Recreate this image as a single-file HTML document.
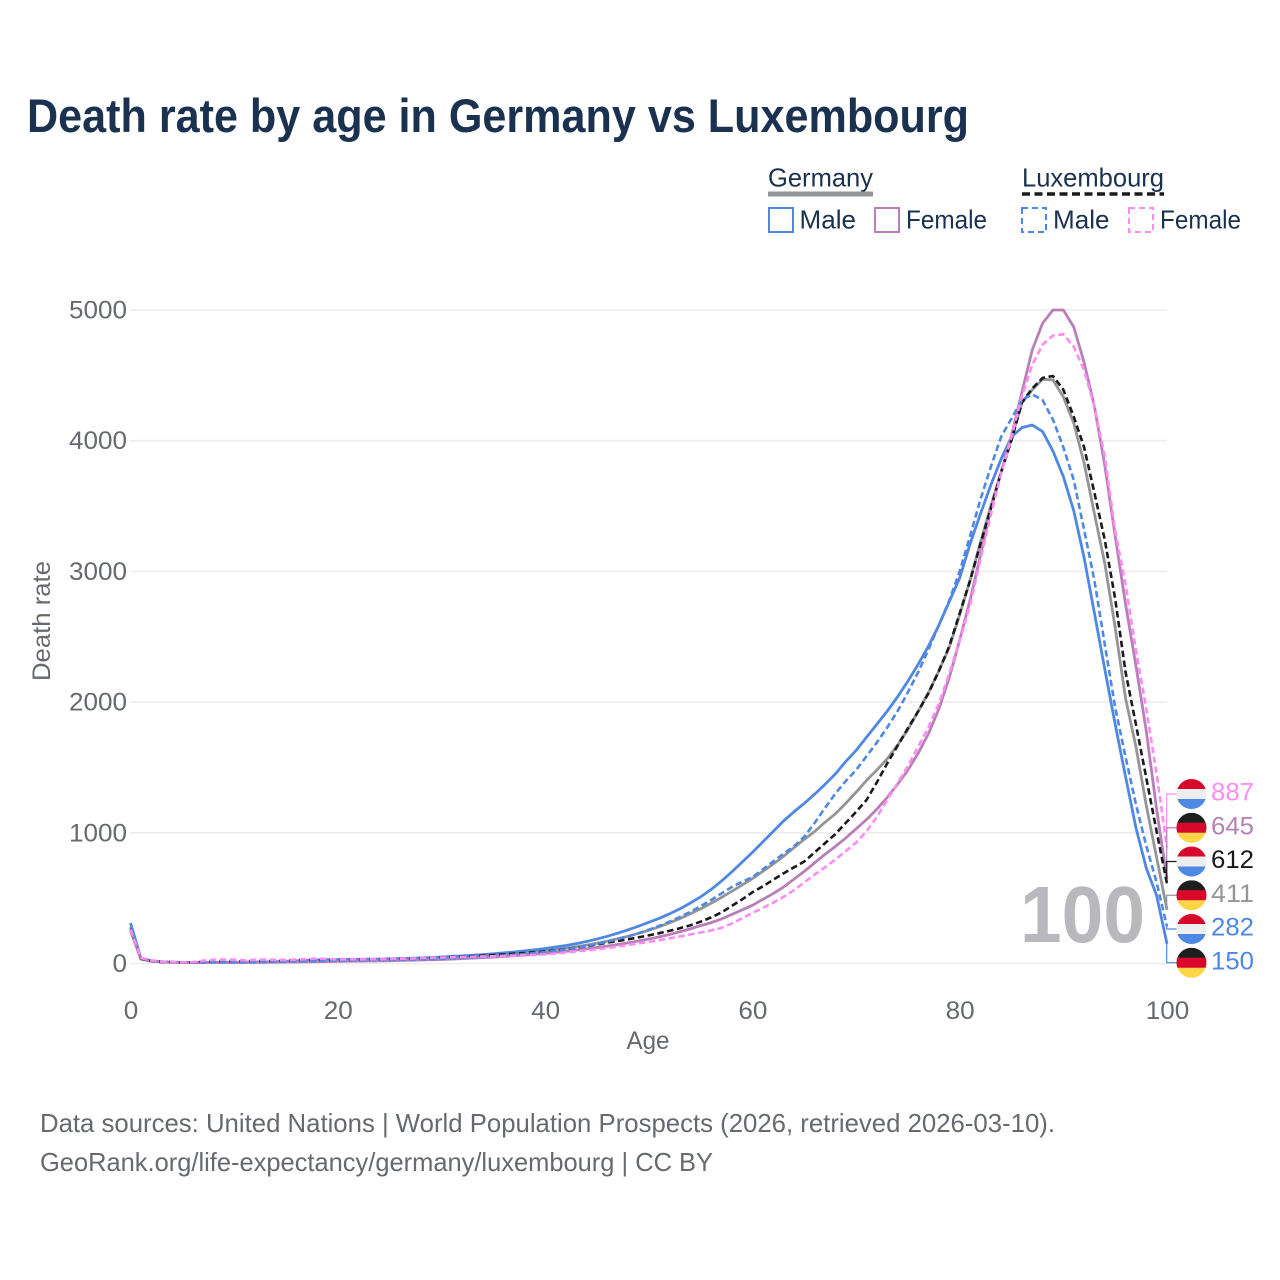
<!DOCTYPE html>
<html lang="en">
<head>
<meta charset="utf-8">
<title>Death rate by age in Germany vs Luxembourg</title>
<style>
html,body{margin:0;padding:0;background:#fff;width:1280px;height:1280px;overflow:hidden}
svg{display:block}
text{font-family:"Liberation Sans",sans-serif}
</style>
</head>
<body>
<svg id="chart" xmlns="http://www.w3.org/2000/svg" width="1280" height="1280" viewBox="0 0 1280 1280">
  <defs>
    <clipPath id="flag-clip"><circle cx="0" cy="0" r="15"/></clipPath>
  </defs>
  <rect width="1280" height="1280" fill="#fff"/>
  <text x="27" y="132" font-size="47" font-weight="700" fill="#1a3150" textLength="942" lengthAdjust="spacingAndGlyphs">Death rate by age in Germany vs Luxembourg</text>

  <g fill="#1a3150" font-size="26">
    <text x="768" y="186.5" textLength="105" lengthAdjust="spacingAndGlyphs">Germany</text>
    <line x1="768" x2="873" y1="194" y2="194" stroke="#939598" stroke-width="5"/>
    <text x="1022" y="186.5" textLength="142" lengthAdjust="spacingAndGlyphs">Luxembourg</text>
    <line x1="1022" x2="1164" y1="194" y2="194" stroke="#1a1a1a" stroke-width="3.5" stroke-dasharray="8 4.5"/>
    <rect x="769" y="208" width="24" height="24" fill="none" stroke="#4f88e3" stroke-width="2"/>
    <text x="799.5" y="228.5" textLength="56.5" lengthAdjust="spacingAndGlyphs">Male</text>
    <rect x="875" y="208" width="24" height="24" fill="none" stroke="#b97fb8" stroke-width="2"/>
    <text x="906" y="228.5" textLength="81" lengthAdjust="spacingAndGlyphs">Female</text>
    <rect x="1022" y="208" width="24" height="24" fill="none" stroke="#4f88e3" stroke-width="2" stroke-dasharray="6 4"/>
    <text x="1053" y="228.5" textLength="56.5" lengthAdjust="spacingAndGlyphs">Male</text>
    <rect x="1129" y="208" width="24" height="24" fill="none" stroke="#ff8cf2" stroke-width="2" stroke-dasharray="6 4"/>
    <text x="1160" y="228.5" textLength="81" lengthAdjust="spacingAndGlyphs">Female</text>
  </g>

  <g id="grid"></g>
  <g id="ticks"></g>
  <text transform="translate(50,621) rotate(-90)" text-anchor="middle" font-size="25" fill="#666a70" textLength="120" lengthAdjust="spacingAndGlyphs">Death rate</text>
  <text x="648" y="1049" text-anchor="middle" font-size="25" fill="#666a70" textLength="43" lengthAdjust="spacingAndGlyphs">Age</text>
  <text id="big-age" x="1020" y="942" font-size="80" font-weight="700" fill="#b9b9bd" textLength="125" lengthAdjust="spacingAndGlyphs"></text>
  <g id="series"></g>
  <g id="callouts"></g>

  <text x="40" y="1132" font-size="26" fill="#666a70" textLength="1015" lengthAdjust="spacingAndGlyphs">Data sources: United Nations | World Population Prospects (2026, retrieved 2026-03-10).</text>
  <text x="40" y="1171" font-size="26" fill="#666a70" textLength="673" lengthAdjust="spacingAndGlyphs">GeoRank.org/life-expectancy/germany/luxembourg | CC BY</text>
</svg>
<script>
const yTickValues = [0, 1000, 2000, 3000, 4000, 5000];
const xTickValues = [0, 20, 40, 60, 80, 100];

const germanyTotal = [280,36,20,13,10,8,8,8,9,9,9,10,11,12,14,16,19,22,24,26,27,28,29,30,31,33,35,37,39,42,45,49,53,57,62,67,72,78,84,91,99,107,117,128,141,155,171,189,208,230,254,281,311,344,380,418,460,505,552,600,650,705,760,820,885,950,1010,1080,1145,1225,1310,1400,1480,1565,1670,1790,1930,2075,2240,2420,2670,2930,3220,3500,3760,4020,4290,4390,4470,4465,4335,4135,3830,3440,3060,2570,2030,1660,1210,810,411];
const germanyMale = [310,40,22,14,10,8,8,8,8,8,8,9,10,11,13,16,20,24,27,29,30,31,32,33,34,36,38,40,43,46,50,54,58,63,68,74,81,88,96,105,115,126,138,152,168,187,208,232,258,285,315,345,380,418,462,510,565,630,700,775,850,930,1010,1090,1160,1225,1295,1370,1450,1545,1630,1730,1830,1930,2040,2160,2290,2430,2590,2770,2950,3210,3440,3660,3860,4030,4100,4120,4070,3920,3725,3465,3105,2680,2250,1830,1430,1040,730,520,150];
const germanyFemale = [250,33,18,12,9,7,7,7,7,7,7,8,8,9,10,11,12,13,14,15,16,17,18,19,20,21,23,25,27,29,31,34,37,41,45,49,54,59,65,71,78,85,93,102,112,122,133,145,158,172,187,204,222,243,265,290,312,340,375,410,445,490,535,585,645,705,770,835,895,960,1030,1100,1180,1270,1370,1480,1610,1760,1950,2190,2475,2780,3120,3480,3760,4040,4370,4695,4900,5000,5000,4870,4600,4260,3810,3270,2750,2280,1780,1180,645];
const luxembourgTotal = [265,38,20,12,9,8,8,12,14,15,15,16,17,18,19,21,24,26,27,27,27,28,29,30,31,33,35,37,40,43,46,49,52,56,60,64,69,75,80,86,93,100,110,120,132,146,160,172,185,200,215,232,250,270,292,320,352,390,440,490,545,590,640,690,735,780,850,920,990,1075,1160,1250,1385,1530,1665,1800,1930,2070,2240,2430,2680,2930,3210,3480,3760,4005,4290,4400,4480,4495,4390,4185,3950,3600,3240,2790,2230,1830,1420,1010,612];
const luxembourgMale = [262,40,22,14,10,8,8,9,10,10,10,11,12,13,14,15,16,18,20,21,22,23,24,25,26,27,28,30,32,34,36,39,42,46,50,55,60,66,72,80,88,97,108,120,134,150,167,186,208,232,258,288,320,356,395,438,485,535,585,625,660,720,780,840,895,970,1075,1190,1300,1395,1480,1585,1690,1805,1930,2075,2230,2405,2590,2780,3000,3270,3550,3800,4030,4170,4310,4355,4310,4160,3950,3700,3320,2930,2440,1960,1580,1220,900,620,282];
const luxembourgFemale = [262,42,24,15,10,8,10,22,28,30,28,24,28,30,28,27,30,34,38,34,32,32,32,33,33,35,36,38,42,44,46,48,50,52,54,55,57,59,62,66,70,76,84,92,100,108,118,130,142,154,165,178,192,207,222,237,253,272,305,345,387,425,465,510,560,620,680,735,795,860,925,1010,1120,1250,1380,1510,1660,1810,1990,2220,2470,2740,3090,3430,3750,4030,4340,4580,4735,4805,4815,4720,4540,4260,3880,3310,2900,2400,1950,1450,887];

const seriesNames = ['germany-total','germany-male','germany-female','luxembourg-total','luxembourg-male','luxembourg-female'];
const seriesValues = [germanyTotal, germanyMale, germanyFemale, luxembourgTotal, luxembourgMale, luxembourgFemale];
const seriesColors = ['#939598','#4f88e3','#b97fb8','#1a1a1a','#4f88e3','#ff8cf2'];
const seriesCountry = ['de','de','de','lu','lu','lu'];

const NS = 'http://www.w3.org/2000/svg';
const xScale = function (age) { return 130.5 + age * 10.365; };
const yScale = function (v) { return 963.5 - v * 0.1307; };
function mk(tag, parent, attrs) {
  const el = document.createElementNS(NS, tag);
  for (const k in attrs) el.setAttribute(k, attrs[k]);
  parent.appendChild(el);
  return el;
}
const grid = document.getElementById('grid');
const ticks = document.getElementById('ticks');

yTickValues.forEach(function (v) {
  const line = mk('line', grid, {x1: 130, x2: 1167, y1: yScale(v), y2: yScale(v), stroke: '#ececee', 'stroke-width': 1.6});
  
  
  const label = mk('text', ticks, {x: 127, y: yScale(v) + 8.5, 'text-anchor': 'end', 'font-size': 25, fill: '#666a70', textLength: String(v).length * 14.5, lengthAdjust: 'spacingAndGlyphs'});
  
  
  label.textContent = v;
});
xTickValues.forEach(function (v) {
  const label = mk('text', ticks, {x: xScale(v) + 0.5, y: 1019, 'text-anchor': 'middle', 'font-size': 25, fill: '#666a70', textLength: String(v).length * 14.5, lengthAdjust: 'spacingAndGlyphs'});
  
  
  label.textContent = v;
});

document.getElementById('big-age').textContent = xTickValues[xTickValues.length - 1];

const seriesGroup = document.getElementById('series');
seriesValues.forEach(function (vals, i) {
  const pts = vals.map(function (v, age) { return xScale(age).toFixed(2) + ',' + yScale(v).toFixed(2); }).join(' ');
  const dashed = seriesNames[i].indexOf('luxembourg') === 0;
  const line = mk('polyline', seriesGroup, {points: pts, fill: 'none', stroke: seriesColors[i], 'stroke-width': dashed ? 2.6 : 2.8, 'stroke-linejoin': 'round', 'stroke-dasharray': dashed ? '6.5 3.5' : 'none'});
  
  
});

const order = seriesValues.map(function (vals, i) { return i; }).sort(function (a, b) {
  return seriesValues[b][100] - seriesValues[a][100];
});
const callouts = document.getElementById('callouts');
order.forEach(function (s, slot) {
  const cy = 794 + slot * 33.75;
  const endV = seriesValues[s][100];
  const color = seriesColors[s];
  const conn = mk('polyline', callouts, {points: '1166.7,' + yScale(endV) + ' 1166.7,' + cy + ' 1178,' + cy, fill: 'none', stroke: color, 'stroke-width': 1.2});
  
  
  const flag = mk('g', callouts, {transform: 'translate(1191.5,' + cy + ')', 'clip-path': 'url(#flag-clip)'});
  
  
  const bands = seriesCountry[s] === 'de' ? ['#1e1e1e', '#d8082a', '#ffd548'] : ['#d8082a', '#eeeeee', '#4f88e3'];
  bands.forEach(function (c, b) {
    mk('rect', flag, {x: -15, y: -15 + b * 10, width: 30, height: 10.2, fill: c});
  });
  const label = mk('text', callouts, {x: 1211, y: cy + 6.5, 'font-size': 25, fill: color, textLength: 43, lengthAdjust: 'spacingAndGlyphs'});
  
  
  label.textContent = endV;
});
</script>
</body>
</html>
